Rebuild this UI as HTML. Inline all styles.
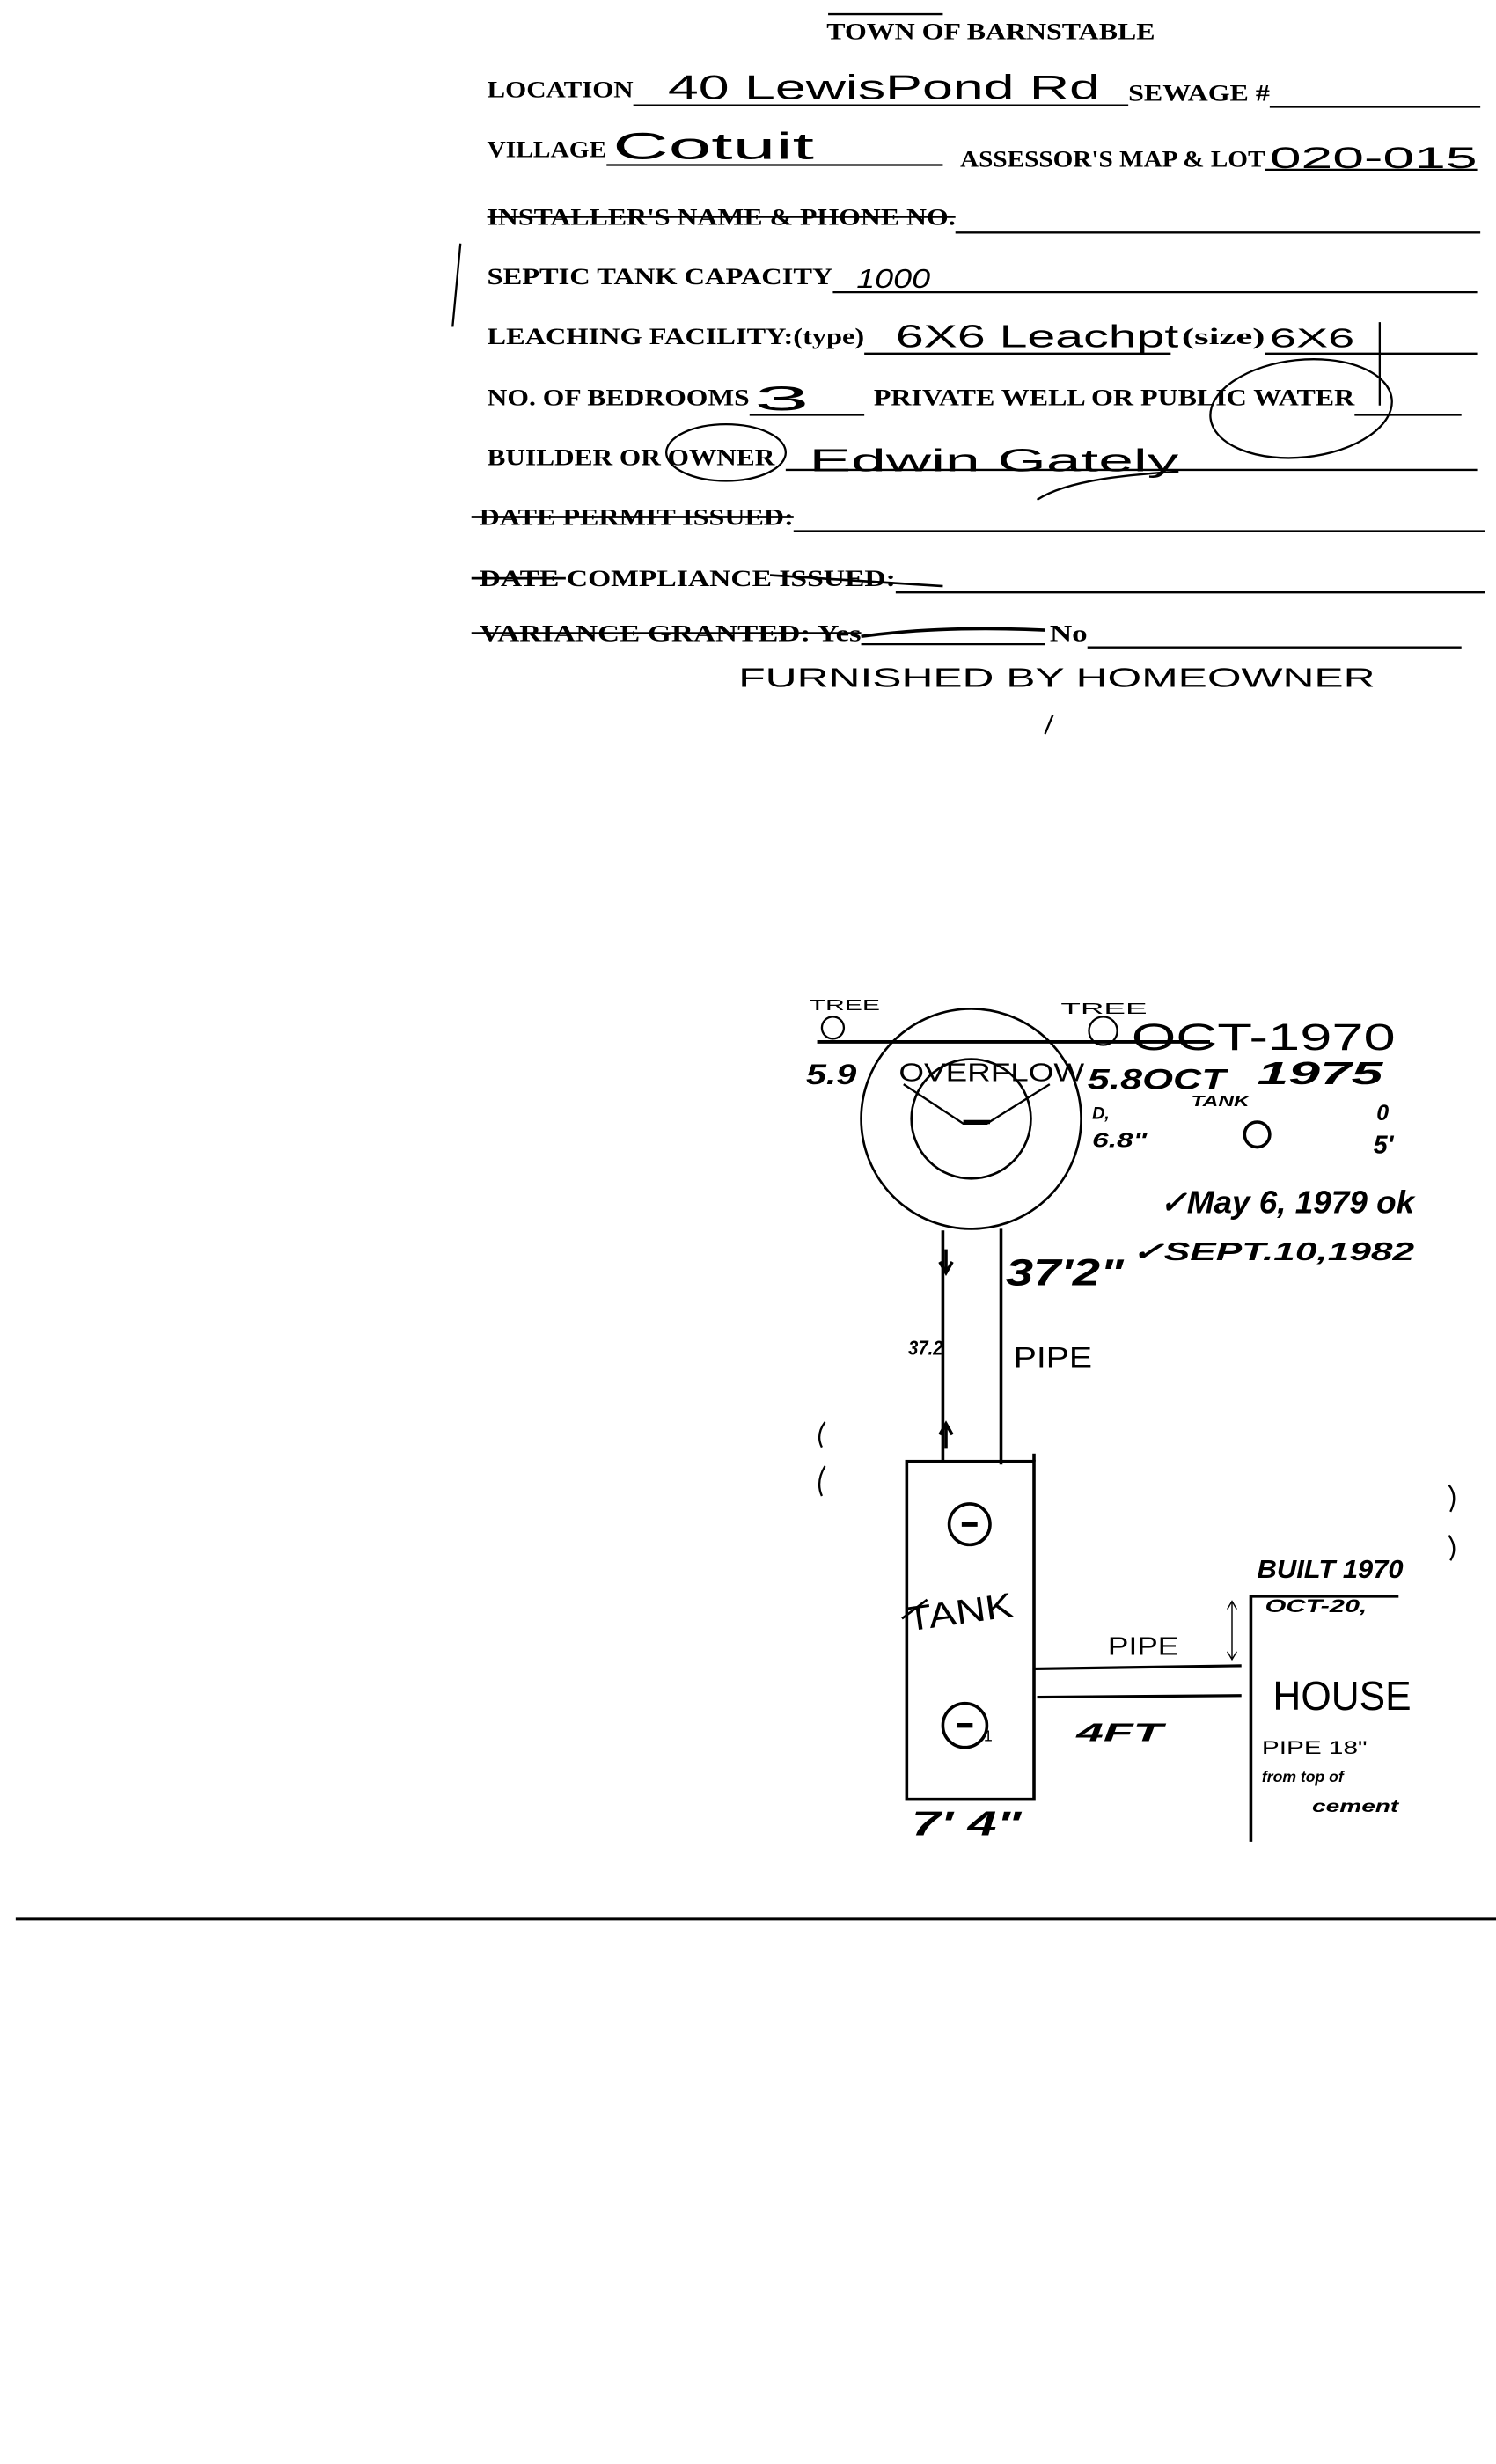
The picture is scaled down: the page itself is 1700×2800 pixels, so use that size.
<!DOCTYPE html>
<html><head><meta charset="utf-8"><style>
html,body{margin:0;padding:0;background:#fff}
svg{display:block}
.f{font-family:"Liberation Serif",serif;font-weight:bold;font-size:15px;fill:#000}
.h{font-family:"Liberation Sans",sans-serif;fill:#000}
.hi{font-family:"Liberation Sans",sans-serif;font-style:italic;font-weight:bold;fill:#000}
</style></head><body>
<svg width="1700" height="2800" viewBox="0 0 952 1568" xmlns="http://www.w3.org/2000/svg">
<g stroke="#000" fill="none" stroke-width="1.3">
<line x1="403" y1="67" x2="718" y2="67"/><line x1="808" y1="68" x2="942" y2="68"/>
<line x1="386" y1="105" x2="600" y2="105"/><line x1="805" y1="108" x2="940" y2="108"/>
<line x1="608" y1="148" x2="942" y2="148"/>
<line x1="530" y1="186" x2="940" y2="186"/>
<line x1="550" y1="225" x2="745" y2="225"/><line x1="805" y1="225" x2="940" y2="225"/>
<line x1="477" y1="264" x2="550" y2="264"/><line x1="862" y1="264" x2="930" y2="264"/>
<line x1="500" y1="299" x2="940" y2="299"/>
<line x1="505" y1="338" x2="945" y2="338"/>
<line x1="570" y1="377" x2="945" y2="377"/>
<line x1="548" y1="410" x2="665" y2="410"/><line x1="692" y1="412" x2="930" y2="412"/>
<line x1="293" y1="155" x2="288" y2="208"/>
<line x1="878" y1="205" x2="878" y2="258"/>
<ellipse cx="828" cy="260" rx="58" ry="31" transform="rotate(-6 828 260)"/>
<ellipse cx="462" cy="288" rx="38" ry="18"/>
<path d="M660 318 C680 305 720 302 750 300"/>
<line x1="527" y1="9" x2="600" y2="9"/>
<line x1="310" y1="138" x2="608" y2="138" stroke-width="1.5"/>
<line x1="300" y1="329" x2="505" y2="329" stroke-width="1.5"/>
<line x1="300" y1="368" x2="360" y2="368" stroke-width="1.5"/>
<line x1="490" y1="366" x2="600" y2="373" stroke-width="1.5"/>
<line x1="300" y1="403" x2="548" y2="403" stroke-width="1.5"/>
<path d="M548 405 Q600 398 665 401" stroke-width="2"/>
<line x1="670" y1="455" x2="665" y2="467"/>
<line x1="520" y1="663" x2="770" y2="663" stroke-width="2.2"/>
<circle cx="530" cy="654" r="7"/>
<circle cx="702" cy="656" r="9"/>
<circle cx="618" cy="712" r="70" stroke-width="1.5"/>
<circle cx="618" cy="712" r="38" stroke-width="1.5"/>
<path d="M575 690 L613 715 L628 715 L668 690" stroke-width="1.3"/>
<line x1="613" y1="714" x2="630" y2="714" stroke-width="2.5"/>
<line x1="600" y1="783" x2="600" y2="930" stroke-width="2"/>
<line x1="637" y1="782" x2="637" y2="932" stroke-width="2"/>
<rect x="577" y="930" width="81" height="215" stroke-width="2"/>
<line x1="658" y1="925" x2="658" y2="930" stroke-width="2"/>
<circle cx="617" cy="970" r="13" stroke-width="2"/>
<line x1="612" y1="970" x2="622" y2="970" stroke-width="3"/>
<circle cx="614" cy="1098" r="14" stroke-width="2"/>
<line x1="609" y1="1098" x2="619" y2="1098" stroke-width="3"/>
<line x1="658" y1="1062" x2="790" y2="1060" stroke-width="1.8"/>
<line x1="660" y1="1080" x2="790" y2="1079" stroke-width="1.8"/>
<line x1="796" y1="1015" x2="796" y2="1172" stroke-width="2"/>
<line x1="796" y1="1016" x2="890" y2="1016" stroke-width="1.5"/>
<line x1="10" y1="1221" x2="952" y2="1221" stroke-width="2.2"/>
<path d="M602 795 V808 M598 803 L602 810 L606 803" stroke-width="2"/>
<path d="M602 922 V908 M598 913 L602 906 L606 913" stroke-width="2"/>
<circle cx="800" cy="722" r="8" stroke-width="2"/>
<path d="M525 905 Q519 913 523 921 M525 933 Q519 943 523 952 M922 945 Q928 952 923 962 M922 977 Q928 985 923 993"/>
<line x1="574" y1="1030" x2="590" y2="1018" stroke-width="1.5"/>
<path d="M784 1020 V1055 M781 1024 L784 1019 L787 1024 M781 1051 L784 1056 L787 1051" stroke-width="0.8"/>
</g>
<text class="f" x="526" y="25" textLength="209" lengthAdjust="spacingAndGlyphs">TOWN OF BARNSTABLE</text>
<text class="f" x="310" y="62" textLength="93" lengthAdjust="spacingAndGlyphs">LOCATION</text>
<text class="f" x="718" y="64" textLength="90" lengthAdjust="spacingAndGlyphs">SEWAGE #</text>
<text class="f" x="310" y="100" textLength="76" lengthAdjust="spacingAndGlyphs">VILLAGE</text>
<text class="f" x="611" y="106" textLength="194" lengthAdjust="spacingAndGlyphs">ASSESSOR'S  MAP &amp; LOT</text>
<text class="f" x="310" y="143" textLength="298" lengthAdjust="spacingAndGlyphs">INSTALLER'S NAME &amp; PHONE NO.</text>
<text class="f" x="310" y="181" textLength="220" lengthAdjust="spacingAndGlyphs">SEPTIC TANK CAPACITY</text>
<text class="f" x="310" y="219" textLength="240" lengthAdjust="spacingAndGlyphs">LEACHING FACILITY:(type)</text>
<text class="f" x="752" y="219" textLength="53" lengthAdjust="spacingAndGlyphs">(size)</text>
<text class="f" x="310" y="258" textLength="167" lengthAdjust="spacingAndGlyphs">NO. OF BEDROOMS</text>
<text class="f" x="556" y="258" textLength="306" lengthAdjust="spacingAndGlyphs">PRIVATE WELL OR PUBLIC WATER</text>
<text class="f" x="310" y="296" textLength="183" lengthAdjust="spacingAndGlyphs">BUILDER OR OWNER</text>
<text class="f" x="305" y="334" textLength="200" lengthAdjust="spacingAndGlyphs">DATE PERMIT ISSUED:</text>
<text class="f" x="305" y="373" textLength="265" lengthAdjust="spacingAndGlyphs">DATE  COMPLIANCE ISSUED:</text>
<text class="f" x="305" y="408" textLength="243" lengthAdjust="spacingAndGlyphs">VARIANCE GRANTED:  Yes</text>
<text class="f" x="668" y="408" textLength="24" lengthAdjust="spacingAndGlyphs">No</text>
<text class="h" x="425" y="63" font-size="22" textLength="275" lengthAdjust="spacingAndGlyphs">40 LewisPond Rd</text>
<text class="h" x="390" y="101" font-size="24" textLength="128" lengthAdjust="spacingAndGlyphs">Cotuit</text>
<text class="h" x="808" y="107" font-size="19" textLength="132" lengthAdjust="spacingAndGlyphs">020-015</text>
<text class="h" x="545" y="183" font-size="17" font-style="italic" textLength="47" lengthAdjust="spacingAndGlyphs">1000</text>
<text class="h" x="570" y="221" font-size="20" textLength="180" lengthAdjust="spacingAndGlyphs">6X6 Leachpt</text>
<text class="h" x="808" y="221" font-size="17" textLength="54" lengthAdjust="spacingAndGlyphs">6X6</text>
<text class="h" x="480" y="261" font-size="22" textLength="35" lengthAdjust="spacingAndGlyphs">3</text>
<text class="h" x="515" y="300" font-size="20" textLength="235" lengthAdjust="spacingAndGlyphs">Edwin  Gately</text>
<text class="h" x="470" y="437" font-size="17" textLength="405" lengthAdjust="spacingAndGlyphs">FURNISHED BY HOMEOWNER</text>
<text class="h" x="515" y="643" font-size="10" textLength="45" lengthAdjust="spacingAndGlyphs">TREE</text>
<text class="h" x="675" y="645" font-size="10" textLength="55" lengthAdjust="spacingAndGlyphs">TREE</text>
<text class="h" x="720" y="668" font-size="24" textLength="168" lengthAdjust="spacingAndGlyphs">OCT-1970</text>
<text class="hi" x="513" y="690" font-size="18" textLength="32" lengthAdjust="spacingAndGlyphs">5.9</text>
<text class="h" x="572" y="688" font-size="16" textLength="118" lengthAdjust="spacingAndGlyphs">OVERFLOW</text>
<text class="hi" x="692" y="693" font-size="18" textLength="88" lengthAdjust="spacingAndGlyphs">5.8OCT</text>
<text class="hi" x="800" y="690" font-size="20" textLength="80" lengthAdjust="spacingAndGlyphs">1975</text>
<text class="hi" x="758" y="704" font-size="10" textLength="37" lengthAdjust="spacingAndGlyphs">TANK</text>
<text class="hi" x="695" y="712" font-size="11">D,</text>
<text class="hi" x="695" y="730" font-size="13" textLength="35" lengthAdjust="spacingAndGlyphs">6.8"</text>
<text class="hi" x="876" y="713" font-size="14">0</text>
<text class="hi" x="874" y="734" font-size="16">5'</text>
<text class="hi" x="738" y="772" font-size="20" textLength="162" lengthAdjust="spacingAndGlyphs">✓May 6, 1979 ok</text>
<text class="hi" x="640" y="818" font-size="24" textLength="75" lengthAdjust="spacingAndGlyphs">37'2"</text>
<text class="hi" x="720" y="802" font-size="16" textLength="180" lengthAdjust="spacingAndGlyphs">✓SEPT.10,1982</text>
<text class="hi" x="578" y="862" font-size="13" textLength="22" lengthAdjust="spacingAndGlyphs">37.2</text>
<text class="h" x="645" y="870" font-size="18" textLength="50" lengthAdjust="spacingAndGlyphs">PIPE</text>
<text class="hi" x="800" y="1004" font-size="16" textLength="93" lengthAdjust="spacingAndGlyphs">BUILT 1970</text>
<text class="hi" x="805" y="1026" font-size="12" textLength="65" lengthAdjust="spacingAndGlyphs">OCT-20,</text>
<text class="h" x="578" y="1038" font-size="22" textLength="68" lengthAdjust="spacingAndGlyphs" transform="rotate(-8 578 1038)">TANK</text>
<text class="h" x="705" y="1053" font-size="16" textLength="45" lengthAdjust="spacingAndGlyphs">PIPE</text>
<text class="h" x="810" y="1088" font-size="26" textLength="88" lengthAdjust="spacingAndGlyphs">HOUSE</text>
<text class="hi" x="685" y="1108" font-size="16" textLength="55" lengthAdjust="spacingAndGlyphs">4FT</text>
<text class="h" x="803" y="1116" font-size="12" textLength="67" lengthAdjust="spacingAndGlyphs">PIPE 18"</text>
<text class="hi" x="803" y="1134" font-size="10" textLength="52" lengthAdjust="spacingAndGlyphs">from top of</text>
<text class="hi" x="835" y="1153" font-size="11" textLength="55" lengthAdjust="spacingAndGlyphs">cement</text>
<text class="hi" x="580" y="1168" font-size="22" textLength="70" lengthAdjust="spacingAndGlyphs">7' 4"</text>
<text class="h" x="626" y="1108" font-size="10">1</text>
</svg>
</body></html>
